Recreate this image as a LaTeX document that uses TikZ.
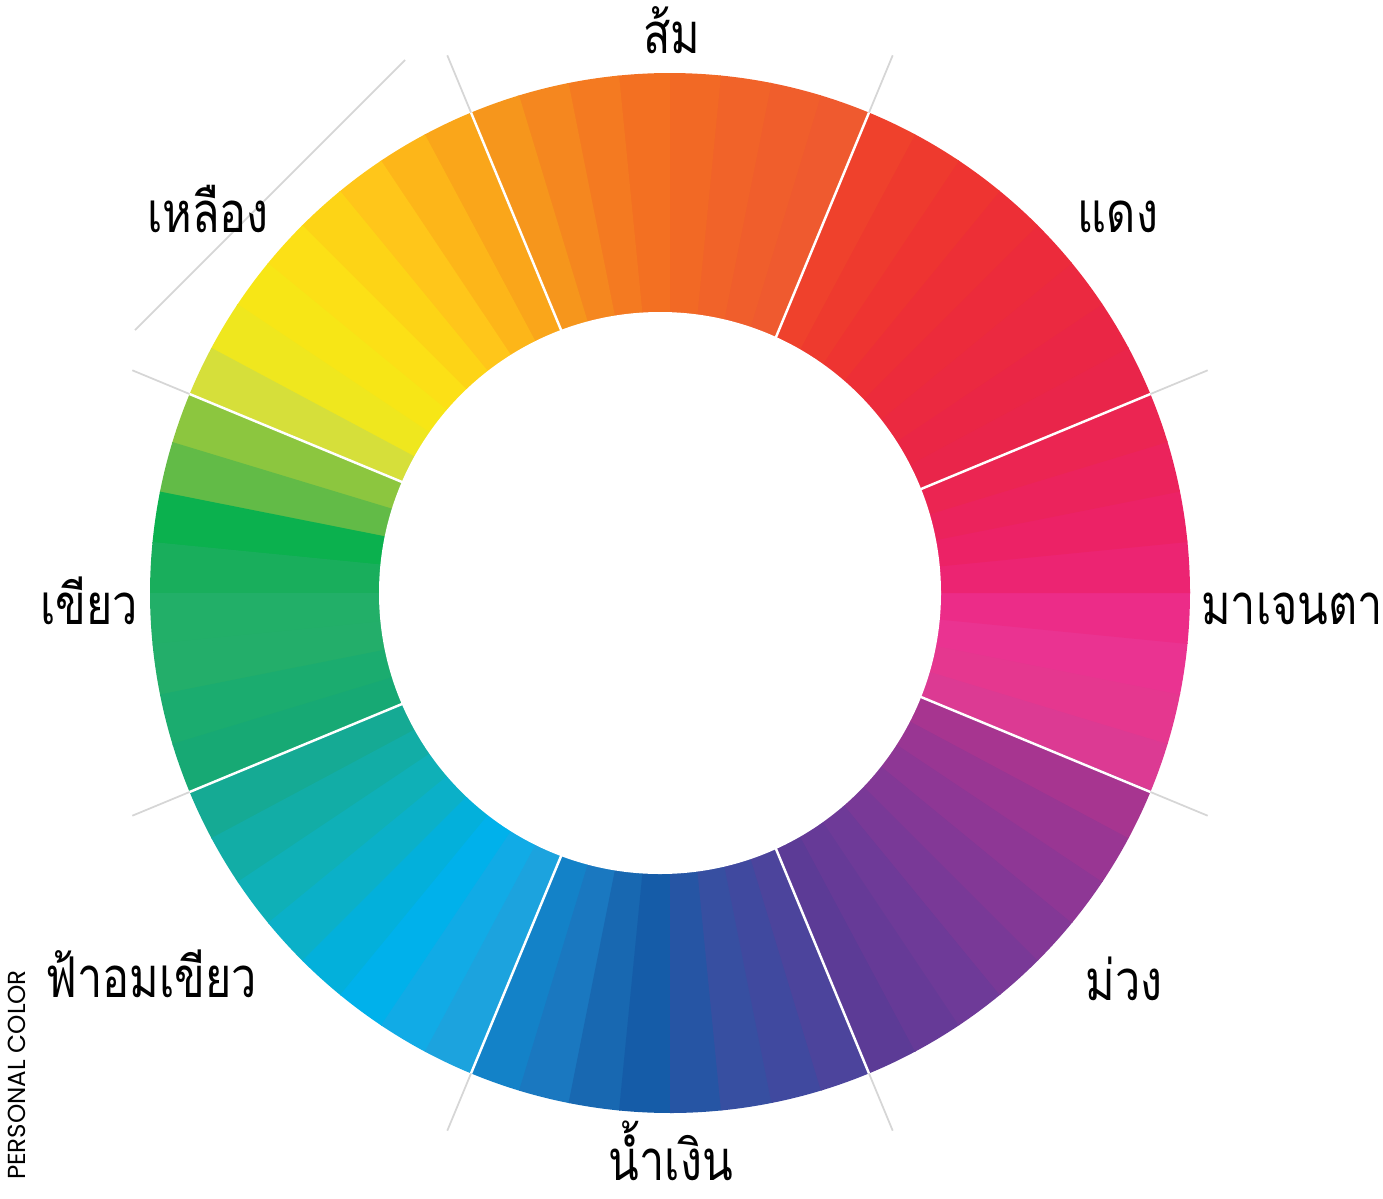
\documentclass[tikz,border=0pt]{standalone}
\usepackage{fontspec}
\newfontfamily\thaifont[Script=Thai, FakeStretch=0.8]{Loma}
\newfontfamily\capsfont{Poppins}

\begin{document}
\begin{tikzpicture}[
    seam/.style={white, line width=0.7pt},
    guide/.style={black!16, line width=0.5pt},
    huename/.style={font=\thaifont\fontsize{16}{19}\selectfont, anchor=base,
      inner sep=0pt, text depth=0pt}]
    % 1 px of the layout = 0.01 cm, y runs downwards
    \useasboundingbox (0,0) rectangle (13.83,-11.98);
    \coordinate (ctr) at (6.70,-5.93);

    % 64 wedges of 5.625 deg, counter-clockwise from -22.5 deg
    % magenta, red, orange, yellow, green, teal, blue, purple
    \foreach \hex [count=\i from 0] in {
        DC3A93, E5378F, EA3391, EC2C88, EC2472, EC2266, EB235C, EB2552,
        E9254A, EA2645, EB2940, EC2B3B, ED2F36, EE3431, EE3A2E, EF412C,
        EF5A2F, F05E2C, F16329, F26925, F37022, F47A21, F5871F, F6961C,
        FAA61A, FDB619, FFC61A, FDD416, FCE016, F7E616, EFE71E, D6DF3A,
        8CC63F, 62BB47, 0BB14E, 19AE5C, 22AF68, 23AE6A, 1BAC6F, 17A974,
        15AA94, 12ADA6, 0FB0B7, 0BB0C8, 03B0DB, 00B1EB, 11ABE6, 1CA3DE,
        1382C8, 1A78C0, 1868B1, 155CA8, 2655A4, 374FA1, 40499F, 4C449C,
        5C3B96, 663A97, 6E3A98, 793997, 833896, 8E3795, 993693, A73590} {
      \definecolor{wedge}{HTML}{\hex}
      \pgfmathsetmacro\a{-22.5+5.625*\i}
      \fill[wedge] (ctr) -- ++(\a:5.2)
        arc[start angle=\a, end angle=\a+5.78, radius=5.2] -- cycle;
    }

    % section borders: white in the ring, grey beyond it
    \foreach \a in {22.5, 67.5, ..., 337.5} {
      \draw[guide] ([shift={(\a:5.2)}]ctr) -- ([shift={(\a:5.82)}]ctr);
      \draw[seam] (ctr) -- ([shift={(\a:5.2)}]ctr);
    }
    \draw[guide] (1.35,-3.30) -- (4.05,-0.60);

    % hole
    \fill[white] (6.60,-5.93) circle (2.81);

    % hue names
    \node[huename] (orange)  at (6.72,-0.53)  {ส้ม};
    \node[huename] (red)     at (11.18,-2.32) {แดง};
    \node[huename] (magenta) at (12.92,-6.24) {มาเจนตา};
    \node[huename] (purple)  at (11.24,-10.00) {ม่วง};
    \node[huename] (blue)    at (6.71,-11.80) {น้ำเงิน};
    \node[huename] (cyan)    at (1.51,-9.97)  {ฟ้าอมเขียว};
    \node[huename] (green)   at (0.89,-6.24)  {เขียว};
    \node[huename] (yellow)  at (2.08,-2.32)  {เหลือง};

    \node[font=\capsfont\fontsize{7}{8}\selectfont, rotate=90] (title)
      at (0.17,-10.75) {PERSONAL COLOR};
\end{tikzpicture}
\end{document}
